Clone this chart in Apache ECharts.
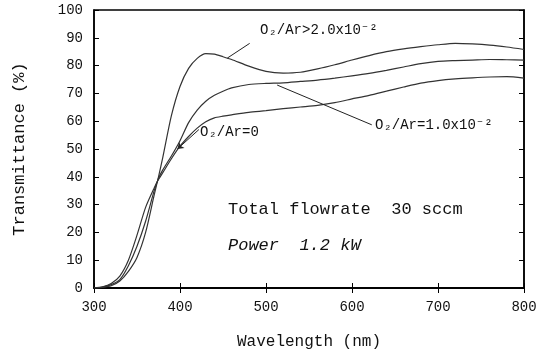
<!DOCTYPE html>
<html>
<head>
<meta charset="utf-8">
<script src="https://cdn.jsdelivr.net/npm/echarts@6/dist/echarts.min.js"></script>
<style>html,body{margin:0;padding:0;background:#fff;}#c{width:549px;height:355px;}</style>
</head>
<body>
<div id="c"></div>
<script>
// Data
var wavelength = [300,310,320,330,340,350,360,370,375,380,390,400,410,420,430,440,450,460,480,500,520,540,560,580,600,620,640,660,680,700,720,740,760,780,800];
var tHigh = [0,0.2,0.8,2.5,6,11,20,33.5,40,47,62,72.5,79,82.6,84.3,84.1,83.2,82.2,79.8,77.9,77.3,77.6,78.8,80.3,82,83.6,85,86,86.8,87.5,88,87.8,87.4,86.7,85.8];
var tMid  = [0,0.3,1.2,3,8,15,24,35,39.5,42.5,47.5,53,59.5,64,67.2,69.3,70.8,72,73.2,73.6,73.8,74.3,74.8,75.5,76.3,77.2,78.3,79.5,80.7,81.5,81.8,82,82.2,82.1,82];
var tZero = [0,0.4,1.6,4.3,10,19,29,36,39,41.5,46.5,51,54.5,57.5,59.8,61.2,61.8,62.3,63.2,63.8,64.5,65.1,65.7,66.7,68,69.3,70.8,72.3,73.7,74.6,75.2,75.6,75.9,76,75.5];
var xTicks = [300,400,500,600,700,800];
var yTicks = [0,10,20,30,40,50,60,70,80,90,100];
var labelHigh = 'O\u2082/Ar>2.0x10\u207B\u00B2';
var labelMid = 'O\u2082/Ar=1.0x10\u207B\u00B2';
var labelZero = 'O\u2082/Ar=0';
// leader lines in data coordinates [wavelength, T]
var leaderHigh = [[481,88],[455,82.7]];
var leaderMid = [[513,73],[623,58.7]];
var leaderZero = [[422,57],[397,50]];

function pairs(ys){ return wavelength.map(function(w,i){ return [w, ys[i]]; }); }

var FONT = '"Liberation Mono", "DejaVu Sans Mono", monospace';
var chart = echarts.init(document.getElementById('c'), null, {renderer:'canvas'});
var lineStyle = {color:'#333', width:1.2};
function leader(pts, arrow){
  return {
    silent:true, symbol: arrow ? ['none','arrow'] : ['none','none'], symbolSize: 6,
    label:{show:false}, lineStyle:{color:'#222', width:1, type:'solid'},
    data:[[{coord:pts[0]},{coord:pts[1]}]]
  };
}
var option = {
  animation:false,
  backgroundColor:'#fff',
  grid:{left:94, right:25, top:10, bottom:66, show:true, borderColor:'#000', borderWidth:1.5},
  xAxis:[{
    type:'value', min:300, max:800, interval:100, position:'bottom',
    name:'Wavelength (nm)', nameLocation:'middle', nameGap:46,
    nameTextStyle:{fontFamily:FONT, fontSize:16, color:'#111'},
    axisLine:{show:true, lineStyle:{color:'#000', width:1.5}},
    axisTick:{show:true, inside:true, length:5, lineStyle:{color:'#000'}},
    axisLabel:{fontFamily:FONT, fontSize:14, color:'#111', margin:12,
      formatter:function(v){ return xTicks.indexOf(v)>=0 ? String(v) : ''; }},
    splitLine:{show:false}
  },{
    type:'value', min:300, max:800, interval:100, position:'top',
    axisLine:{show:true, lineStyle:{color:'#000', width:1.5}},
    axisTick:{show:true, inside:true, length:5, lineStyle:{color:'#000'}},
    axisLabel:{show:false}, splitLine:{show:false}
  }],
  yAxis:[{
    type:'value', min:0, max:100, interval:10, position:'left',
    name:'Transmittance (%)', nameLocation:'middle', nameGap:66, nameRotate:90,
    nameTextStyle:{fontFamily:FONT, fontSize:17, color:'#111'},
    axisLine:{show:true, lineStyle:{color:'#000', width:1.5}},
    axisTick:{show:true, inside:true, length:5, lineStyle:{color:'#000'}},
    axisLabel:{fontFamily:FONT, fontSize:14, color:'#111', margin:11,
      formatter:function(v){ return yTicks.indexOf(v)>=0 ? String(v) : ''; }},
    splitLine:{show:false}
  },{
    type:'value', min:0, max:100, interval:10, position:'right',
    axisLine:{show:true, lineStyle:{color:'#000', width:1.5}},
    axisTick:{show:true, inside:true, length:5, lineStyle:{color:'#000'}},
    axisLabel:{show:false}, splitLine:{show:false}
  }],
  series:[
    {type:'line', name:labelHigh, data:pairs(tHigh), smooth:0.25, showSymbol:false, lineStyle:lineStyle, markLine:leader(leaderHigh,false)},
    {type:'line', name:labelMid, data:pairs(tMid), smooth:0.25, showSymbol:false, lineStyle:lineStyle, markLine:leader(leaderMid,false)},
    {type:'line', name:labelZero, data:pairs(tZero), smooth:0.25, showSymbol:false, lineStyle:lineStyle, markLine:leader(leaderZero,true)}
  ],
  graphic:[
    {type:'text', left:260, top:23, style:{text:labelHigh, font:'14px '+FONT, fill:'#111'}},
    {type:'text', left:375, top:118, style:{text:labelMid, font:'14px '+FONT, fill:'#111'}},
    {type:'text', left:200, top:125, style:{text:labelZero, font:'14px '+FONT, fill:'#111'}},
    {type:'text', left:228, top:201, style:{text:'Total flowrate  30 sccm', font:'17px '+FONT, fill:'#111'}},
    {type:'text', left:228, top:237, style:{text:'Power  1.2 kW', font:'italic 17px '+FONT, fill:'#111'}}
  ]
};
chart.setOption(option);
</script>
</body>
</html>
